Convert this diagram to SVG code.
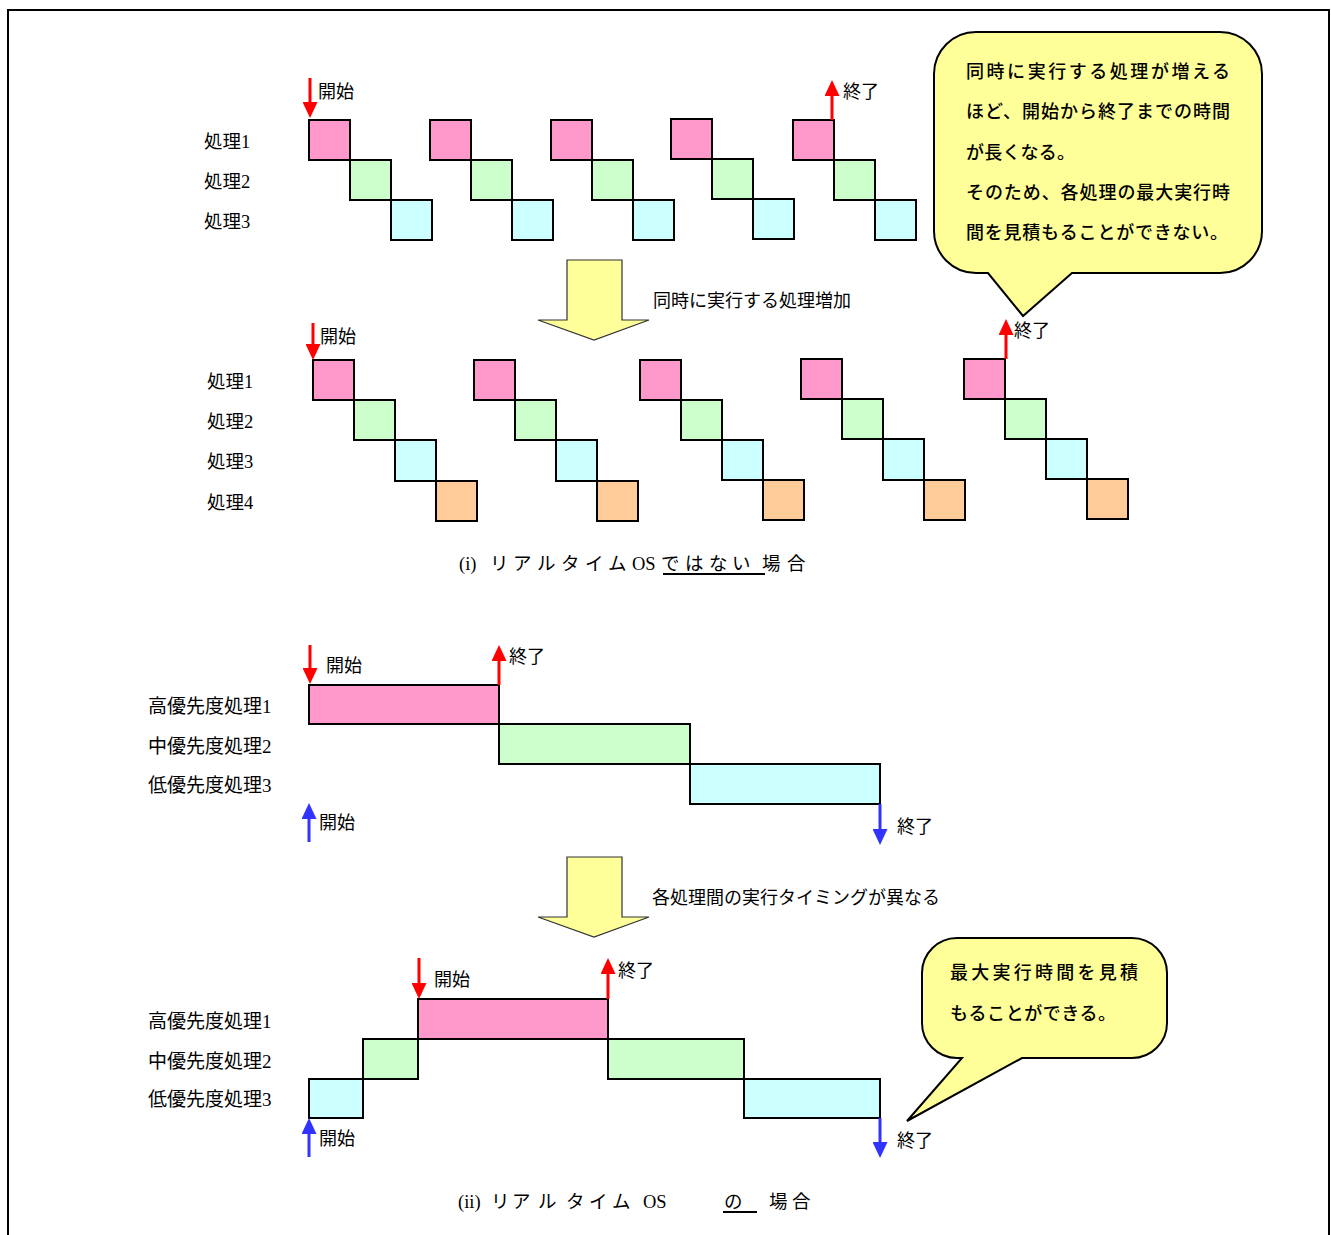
<svg xmlns="http://www.w3.org/2000/svg" width="1331" height="1235" viewBox="0 0 1331 1235">
<style>
.bg{fill:#fff}
.frame{fill:none;stroke:#000;stroke-width:2}
.b{stroke:#000;stroke-width:2}
.p{fill:#FF99CC}.gr{fill:#CCFFCC}.c{fill:#CCFFFF}.o{fill:#FFCC99}
.lbl{font-family:"Liberation Serif","Noto Sans CJK JP",serif;font-size:18.5px;fill:#000}
.lbl2{font-family:"Liberation Serif","Noto Sans CJK JP",serif;font-size:19px;fill:#000}
.g{font-family:"Noto Sans CJK JP","Liberation Sans",sans-serif;font-size:18px;fill:#000}
.bt{font-family:"Noto Sans CJK JP","Liberation Sans",sans-serif;font-size:18px;font-weight:500;fill:#000}
.cap{font-family:"Liberation Serif","Noto Sans CJK JP",serif;font-size:18.5px;fill:#000}
.bub{fill:#FFFF99;stroke:#000;stroke-width:2}
.blk{fill:#FFFF99;stroke:#333;stroke-width:1.2}
.ar{stroke:#FF0000;stroke-width:3;fill:none;marker-end:url(#hr)}
.ab{stroke:#3333FF;stroke-width:3;fill:none;marker-end:url(#hb)}
.ul{stroke:#000;stroke-width:2}
</style>
<defs>
<marker id="hr" markerUnits="userSpaceOnUse" viewBox="0 0 16 15" markerWidth="16" markerHeight="15" refX="11" refY="7.5" orient="auto"><path d="M0,0 L16,7.5 L0,15 Z" fill="#FF0000"/></marker>
<marker id="hb" markerUnits="userSpaceOnUse" viewBox="0 0 16 15" markerWidth="16" markerHeight="15" refX="11" refY="7.5" orient="auto"><path d="M0,0 L16,7.5 L0,15 Z" fill="#3333FF"/></marker>
</defs>
<rect class="bg" x="0" y="0" width="1331" height="1235"/>
<rect class="frame" x="8" y="10" width="1321" height="1240"/>

<!-- Section (i) top row -->
<g id="labels-i-a">
<text class="lbl" x="204" y="148">処理1</text>
<text class="lbl" x="204" y="188">処理2</text>
<text class="lbl" x="204" y="228">処理3</text>
</g>
<g id="row1-g1"><rect class="b p" x="309" y="120" width="41" height="40"/><rect class="b gr" x="350" y="160" width="41" height="40"/><rect class="b c" x="391" y="200" width="41" height="40"/></g>
<g id="row1-g2"><rect class="b p" x="430" y="120" width="41" height="40"/><rect class="b gr" x="471" y="160" width="41" height="40"/><rect class="b c" x="512" y="200" width="41" height="40"/></g>
<g id="row1-g3"><rect class="b p" x="551" y="120" width="41" height="40"/><rect class="b gr" x="592" y="160" width="41" height="40"/><rect class="b c" x="633" y="200" width="41" height="40"/></g>
<g id="row1-g4"><rect class="b p" x="671" y="119" width="41" height="40"/><rect class="b gr" x="712" y="159" width="41" height="40"/><rect class="b c" x="753" y="199" width="41" height="40"/></g>
<g id="row1-g5"><rect class="b p" x="793" y="120" width="41" height="40"/><rect class="b gr" x="834" y="160" width="41" height="40"/><rect class="b c" x="875" y="200" width="41" height="40"/></g>

<g id="bubble1">
<path class="bub" d="M976,32 H1220 A42 42 0 0 1 1262,74 V231 A42 42 0 0 1 1220,273 H1072 L1023,316 L988,273 H976 A42 42 0 0 1 934,231 V74 A42 42 0 0 1 976,32 Z"/>
<text class="bt" x="966" y="78" textLength="264" lengthAdjust="spacing">同時に実行する処理が増える</text>
<text class="bt" x="966" y="118" textLength="264" lengthAdjust="spacing">ほど、開始から終了までの時間</text>
<text class="bt" x="966" y="159" textLength="109" lengthAdjust="spacing">が長くなる。</text>
<text class="bt" x="966" y="199" textLength="264" lengthAdjust="spacing">そのため、各処理の最大実行時</text>
<text class="bt" x="966" y="239" textLength="262" lengthAdjust="spacing">間を見積もることができない。</text>
</g>

<g id="blockarrow1">
<polygon class="blk" points="567,260 622,260 622,320 649,320 594,340 538,320 567,320"/>
<text class="g" x="653" y="307">同時に実行する処理増加</text>
</g>

<!-- Section (i) second row -->
<g id="labels-i-b">
<text class="lbl" x="207" y="388">処理1</text>
<text class="lbl" x="207" y="428">処理2</text>
<text class="lbl" x="207" y="468">処理3</text>
<text class="lbl" x="207" y="509">処理4</text>
</g>
<g id="row2-g1"><rect class="b p" x="313" y="360" width="41" height="40"/><rect class="b gr" x="354" y="400" width="41" height="40"/><rect class="b c" x="395" y="440" width="41" height="41"/><rect class="b o" x="436" y="481" width="41" height="40"/></g>
<g id="row2-g2"><rect class="b p" x="474" y="360" width="41" height="40"/><rect class="b gr" x="515" y="400" width="41" height="40"/><rect class="b c" x="556" y="440" width="41" height="41"/><rect class="b o" x="597" y="481" width="41" height="40"/></g>
<g id="row2-g3"><rect class="b p" x="640" y="360" width="41" height="40"/><rect class="b gr" x="681" y="400" width="41" height="40"/><rect class="b c" x="722" y="440" width="41" height="40"/><rect class="b o" x="763" y="480" width="41" height="40"/></g>
<g id="row2-g4"><rect class="b p" x="801" y="359" width="41" height="40"/><rect class="b gr" x="842" y="399" width="41" height="40"/><rect class="b c" x="883" y="439" width="41" height="41"/><rect class="b o" x="924" y="480" width="41" height="40"/></g>
<g id="row2-g5"><rect class="b p" x="964" y="359" width="41" height="40"/><rect class="b gr" x="1005" y="399" width="41" height="40"/><rect class="b c" x="1046" y="439" width="41" height="40"/><rect class="b o" x="1087" y="479" width="41" height="40"/></g>

<g id="caption-i">
<text class="cap" x="459" y="570">(i)</text>
<text class="cap" x="490 513 537 561 585 608" y="570">リアルタイム</text>
<text class="cap" x="632" y="570">OS</text>
<text class="cap" x="661 685 709 732 762 787" y="570">ではない場合</text>
<line class="ul" x1="663" y1="574" x2="765" y2="574"/>
</g>

<!-- Section (ii) top -->
<g id="labels-ii-a">
<text class="lbl2" x="148" y="713">高優先度処理1</text>
<text class="lbl2" x="148" y="753">中優先度処理2</text>
<text class="lbl2" x="148" y="792">低優先度処理3</text>
</g>
<g id="rt1-high"><rect class="b p" x="309" y="685" width="190" height="39"/></g>
<g id="rt1-mid"><rect class="b gr" x="499" y="724" width="191" height="40"/></g>
<g id="rt1-low"><rect class="b c" x="690" y="764" width="190" height="40"/></g>

<g id="blockarrow2">
<polygon class="blk" points="567,857 622,857 622,917 649,917 594,937 538,917 567,917"/>
<text class="g" x="652" y="904">各処理間の実行タイミングが異なる</text>
</g>

<!-- Section (ii) bottom -->
<g id="labels-ii-b">
<text class="lbl2" x="148" y="1028">高優先度処理1</text>
<text class="lbl2" x="148" y="1068">中優先度処理2</text>
<text class="lbl2" x="148" y="1106">低優先度処理3</text>
</g>
<g id="rt2-low-a"><rect class="b c" x="309" y="1079" width="54" height="39"/></g>
<g id="rt2-mid-a"><rect class="b gr" x="363" y="1039" width="55" height="40"/></g>
<g id="rt2-high"><rect class="b p" x="418" y="999" width="190" height="40"/></g>
<g id="rt2-mid-b"><rect class="b gr" x="608" y="1039" width="136" height="40"/></g>
<g id="rt2-low-b"><rect class="b c" x="744" y="1079" width="136" height="39"/></g>

<g id="bubble2">
<path class="bub" d="M957,938 H1132 A35 35 0 0 1 1167,973 V1023 A35 35 0 0 1 1132,1058 H1022 L907,1121 L962,1058 H957 A35 35 0 0 1 922,1023 V973 A35 35 0 0 1 957,938 Z"/>
<text class="bt" x="950" y="979" textLength="188" lengthAdjust="spacing">最大実行時間を見積</text>
<text class="bt" x="950" y="1020" textLength="166" lengthAdjust="spacing">もることができる。</text>
</g>

<g id="caption-ii">
<text class="cap" x="458" y="1208">(ii)</text>
<text class="cap" x="491 512 538 566 589 612" y="1208">リアルタイム</text>
<text class="cap" x="643" y="1208">OS</text>
<text class="cap" x="724 769 792" y="1208">の場合</text>
<line class="ul" x1="723" y1="1212" x2="757" y2="1212"/>
</g>

<!-- arrow labels -->
<g id="arrow-labels">
<text class="g" x="318" y="98">開始</text>
<text class="g" x="843" y="98">終了</text>
<text class="g" x="320" y="343">開始</text>
<text class="g" x="1014" y="337">終了</text>
<text class="g" x="326" y="672">開始</text>
<text class="g" x="509" y="663">終了</text>
<text class="g" x="319" y="829">開始</text>
<text class="g" x="897" y="833">終了</text>
<text class="g" x="434" y="986">開始</text>
<text class="g" x="618" y="977">終了</text>
<text class="g" x="319" y="1145">開始</text>
<text class="g" x="897" y="1147">終了</text>
</g>

<g id="connectors">
<line class="ar" x1="310" y1="78" x2="310" y2="113"/>
<line class="ar" x1="832" y1="120" x2="832" y2="85"/>
<line class="ar" x1="313" y1="323" x2="313" y2="355"/>
<line class="ar" x1="1006" y1="359" x2="1006" y2="324"/>
<line class="ar" x1="310" y1="645" x2="310" y2="679"/>
<line class="ar" x1="499" y1="685" x2="499" y2="650"/>
<line class="ab" x1="309" y1="842" x2="309" y2="808"/>
<line class="ab" x1="880" y1="804" x2="880" y2="840"/>
<line class="ar" x1="419" y1="958" x2="419" y2="994"/>
<line class="ar" x1="608" y1="999" x2="608" y2="963"/>
<line class="ab" x1="309" y1="1157" x2="309" y2="1123"/>
<line class="ab" x1="880" y1="1118" x2="880" y2="1153"/>
</g>
</svg>
